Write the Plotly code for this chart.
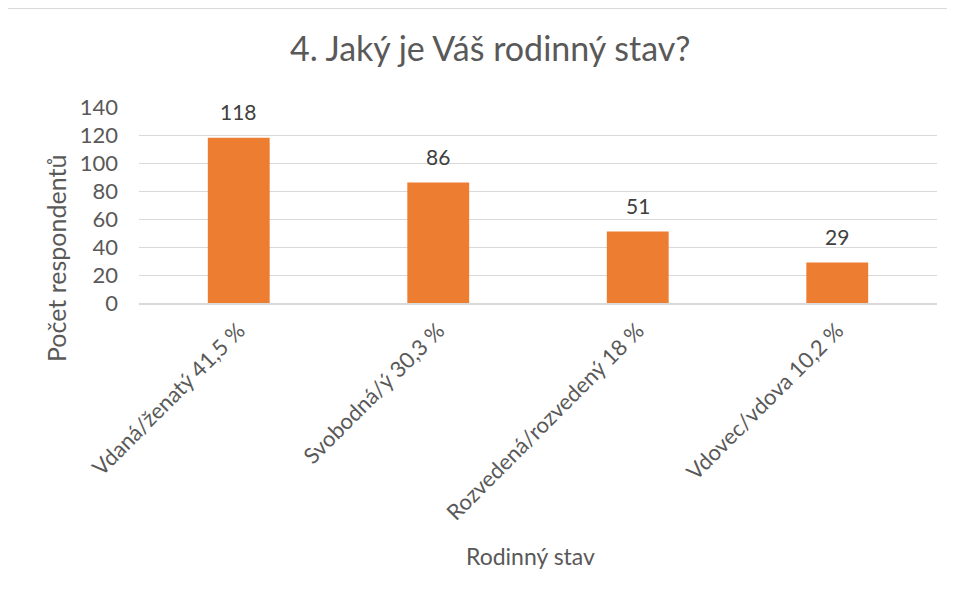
import plotly.graph_objects as go

categories = ["Vdaná/ženatý 41,5 %", "Svobodná/ý 30,3 %", "Rozvedená/rozvedený 18 %", "Vdovec/vdova 10,2 %"]
counts = [118, 86, 51, 29]
y_ticks = [0, 20, 40, 60, 80, 100, 120, 140]

W, H = 955, 598
OFF = 8  # page body margin shifts the figure
L, R, T, B = 139 - OFF, 18 + OFF, 107 - OFF, 295 + OFF
FONT = "Lato"

def px_x(px):
    return (px - OFF - L) / (W - L - R)

def px_y(py):
    return (H - B - (py - OFF)) / (H - T - B)

fig = go.Figure()
fig.add_trace(go.Bar(
    x=categories, y=counts, width=0.31,
    marker=dict(color="#ED7D31", line=dict(width=0)),
    hoverinfo="skip",
))

# data labels above bars
for c, v in zip(categories, counts):
    fig.add_annotation(x=c, y=v, text=str(v), showarrow=False, yshift=26,
                       font=dict(family=FONT, size=21, color="#404040"))

# title and axis titles
fig.add_annotation(xref="paper", yref="paper", x=px_x(490), y=px_y(47), text="4. Jaký je Váš rodinný stav?",
                   xanchor="center", yanchor="middle",
                   showarrow=False, font=dict(family=FONT, size=34, color="#595959"))
fig.add_annotation(xref="paper", yref="paper", x=px_x(56), y=px_y(259), text="Počet respondentů",
                   xanchor="center", yanchor="middle",
                   textangle=-90, showarrow=False, font=dict(family=FONT, size=25, color="#595959"))
fig.add_annotation(xref="paper", yref="paper", x=px_x(530), y=px_y(556), text="Rodinný stav",
                   xanchor="center", yanchor="middle",
                   showarrow=False, font=dict(family=FONT, size=23, color="#595959"))

# chart border (top and left edges visible)
border = dict(color="#D9D9D9", width=2)
fig.add_shape(type="line", xref="paper", yref="paper", x0=px_x(6), y0=px_y(8), x1=px_x(W + 5), y1=px_y(8), line=border)
fig.add_shape(type="line", xref="paper", yref="paper", x0=px_x(6), y0=px_y(8), x1=px_x(6), y1=px_y(H + 5), line=border)

fig.update_layout(
    width=W, height=H,
    margin=dict(l=L, r=R, t=T, b=B),
    plot_bgcolor="white", paper_bgcolor="white",
    showlegend=False,
)
fig.update_xaxes(
    tickangle=-45, tickfont=dict(family=FONT, size=22, color="#595959"),
    showline=True, linecolor="#D9D9D9", linewidth=2, showgrid=False,
    ticks="", ticklabelstandoff=4,
)
fig.update_yaxes(
    range=[0, 140], tickvals=y_ticks, tickfont=dict(family=FONT, size=22, color="#595959"),
    showgrid=True, gridcolor="#D9D9D9", gridwidth=1, zeroline=False,
    showline=False, ticks="", ticklabelstandoff=20,
)

fig.write_html("out.html")
